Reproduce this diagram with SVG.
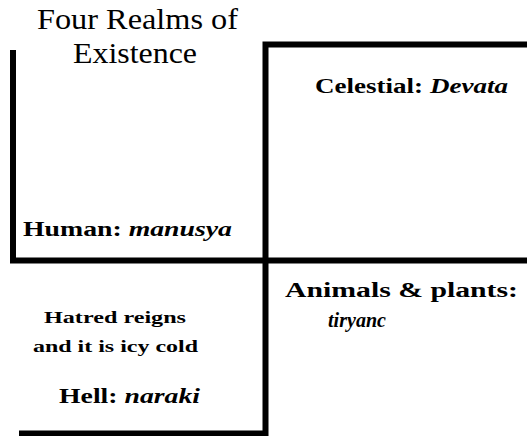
<svg xmlns="http://www.w3.org/2000/svg" width="527" height="436" viewBox="0 0 527 436">
<rect width="527" height="436" fill="#fff"/>
<g id="connectors" fill="none" stroke="#000" stroke-width="6" stroke-linejoin="miter">
<path d="M13,50 V260.5 H527"/>
<path d="M527,44.5 H265.5 V433.5 H19"/>
</g>
<g id="title">
<text x="37" y="29" font-family="Liberation Serif" font-size="30" textLength="201" lengthAdjust="spacingAndGlyphs">Four Realms of</text>
<text x="73" y="63" font-family="Liberation Serif" font-size="30" textLength="124" lengthAdjust="spacingAndGlyphs">Existence</text>
</g>
<g id="celestial">
<text x="315" y="93" font-family="Liberation Serif" font-size="20" font-weight="bold" textLength="193" lengthAdjust="spacingAndGlyphs">Celestial: <tspan font-style="italic">Devata</tspan></text>
</g>
<g id="human">
<text x="23" y="236" font-family="Liberation Serif" font-size="20" font-weight="bold" textLength="209" lengthAdjust="spacingAndGlyphs">Human: <tspan font-style="italic">manusya</tspan></text>
</g>
<g id="animals">
<text x="285" y="297" font-family="Liberation Serif" font-size="20" font-weight="bold" textLength="233" lengthAdjust="spacingAndGlyphs">Animals &amp; plants:</text>
<text x="328" y="327" font-family="Liberation Serif" font-size="20" font-weight="bold" font-style="italic" textLength="58" lengthAdjust="spacingAndGlyphs">tiryanc</text>
</g>
<g id="hell">
<text x="44" y="323" font-family="Liberation Serif" font-size="17" font-weight="bold" textLength="142" lengthAdjust="spacingAndGlyphs">Hatred reigns</text>
<text x="33" y="352" font-family="Liberation Serif" font-size="17" font-weight="bold" textLength="165" lengthAdjust="spacingAndGlyphs">and it is icy cold</text>
<text x="59" y="403" font-family="Liberation Serif" font-size="20" font-weight="bold" textLength="141" lengthAdjust="spacingAndGlyphs">Hell: <tspan font-style="italic">naraki</tspan></text>
</g>
</svg>
